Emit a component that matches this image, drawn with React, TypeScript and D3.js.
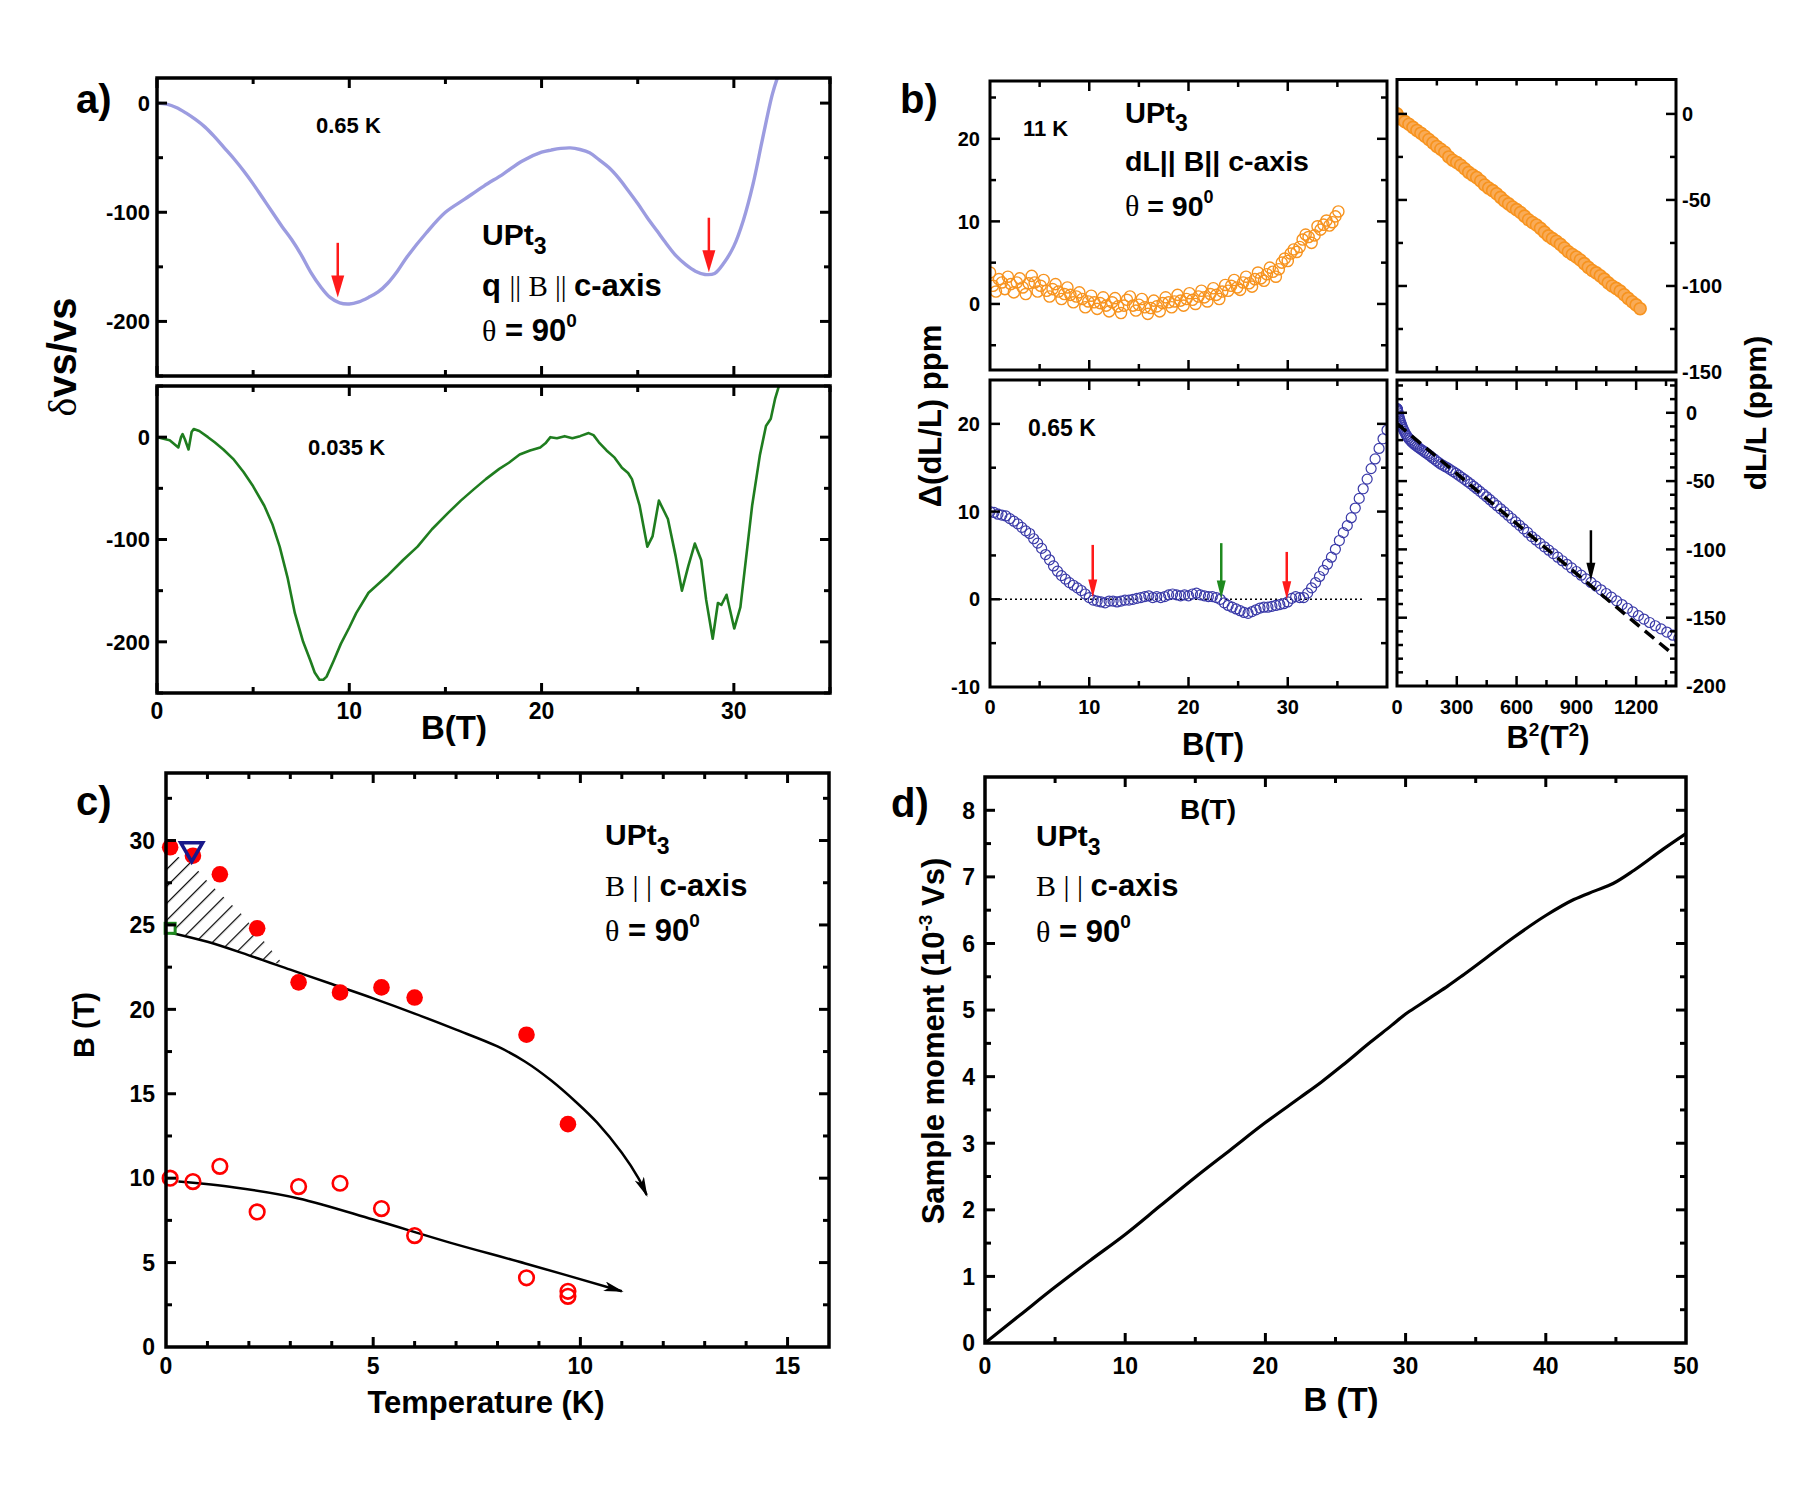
import React, { useEffect, useRef } from 'react';
import * as d3 from 'd3';

const NARROW = "'Liberation Sans Narrow', 'Arial Narrow', 'Liberation Sans', sans-serif";
const SANS = "'Liberation Sans', Arial, Helvetica, sans-serif";
const SERIF = "'Liberation Serif', 'Times New Roman', serif";

// ---------- panel a: relative sound velocity change vs field ----------
const fieldA065 = [0, 0.5, 1, 1.5, 2, 2.5, 3, 3.5, 4, 4.5, 5, 5.5, 6, 6.5, 7, 7.5, 8, 8.5, 9, 9.5, 10, 10.5, 11, 11.5, 12, 12.5, 13, 14, 15, 16, 17, 18, 19, 20, 20.5, 21, 21.5, 22, 22.5, 23, 23.5, 24, 24.5, 25, 25.5, 26, 26.5, 27, 27.5, 28, 28.5, 29, 29.5, 30, 30.5, 31, 31.5, 32, 32.3];
const dvA065 = [0, -1, -4, -9, -15, -22, -31, -41, -51, -62, -74, -87, -100, -113, -125, -139, -155, -168, -178, -183, -184, -182, -178, -173, -165, -154, -141, -119, -100, -88, -76, -65, -53, -45, -43, -41.5, -41, -42.5, -45.5, -52, -59, -68.5, -80, -92, -105, -117, -129, -140, -148, -154, -157, -156, -146, -131, -107, -74, -32, 8, 25];

const fieldA035 = [0, 0.66, 1.11, 1.25, 1.33, 1.45, 1.64, 1.8, 1.91, 2.2, 2.65, 3.0, 3.45, 4.0, 4.5, 5.0, 5.58, 6.0, 6.38, 6.8, 7.17, 7.6, 7.97, 8.2, 8.45, 8.65, 8.82, 9.2, 9.56, 10.0, 10.36, 11.0, 11.95, 12.8, 13.55, 14.3, 15.14, 15.8, 16.47, 17.1, 17.8, 18.3, 18.86, 19.4, 19.93, 20.2, 20.46, 20.8, 21.2, 21.6, 22.0, 22.45, 22.7, 22.98, 23.38, 23.8, 24.18, 24.5, 24.7, 25.1, 25.5, 25.77, 26.1, 26.57, 26.97, 27.3, 27.63, 27.97, 28.3, 28.56, 28.9, 29.17, 29.35, 29.62, 30.02, 30.34, 30.95, 31.35, 31.67, 31.92, 32.15, 32.36];
const dvA035 = [0, -3, -10, 0, 3, -2, -12, 5, 8, 6, 0, -5, -12, -22, -34, -48, -67, -85, -107, -138, -172, -200, -218, -230, -237, -237, -234, -218, -202, -186, -172, -152, -136, -120, -107, -90, -74, -62, -51, -41, -31, -25, -17, -13, -10, -6, 0, -1, 1, -1, 1, 4, 2, -5, -13, -20, -30, -35, -41, -67, -107, -97, -62, -80, -116, -150, -126, -104, -120, -159, -197, -162, -164, -154, -187, -166, -67, -18, 11, 18, 38, 51];

const arrowsA = [
  { b: 9.4, from: -128, to: -178 },
  { b: 28.7, from: -105, to: -155 },
];

const aXTicks = [0, 5, 10, 15, 20, 25, 30, 35];
const aXLabels = [0, 10, 20, 30];
const aYTicks = [-250, -200, -150, -100, -50, 0, 50];
const aYLabels = [-200, -100, 0];

// ---------- panel b: magnetostriction ----------
// 11 K sweep: [B (T), Δ(dL/L) ppm]
const dl11K = [
  [0, 3.8], [0.3, 2.2], [0.6, 1.5], [0.9, 3.0], [1.2, 2.6], [1.5, 1.8], [1.8, 3.3], [2.1, 2.4], [2.4, 1.4], [2.7, 2.6],
  [3, 3.1], [3.3, 2.0], [3.6, 1.2], [3.9, 2.5], [4.2, 3.4], [4.5, 2.6], [4.8, 1.5], [5.1, 2.2], [5.4, 2.9], [5.7, 1.6],
  [6, 0.9], [6.3, 1.8], [6.6, 2.4], [6.9, 1.5], [7.2, 0.6], [7.5, 1.2], [7.8, 2.0], [8.1, 1.1], [8.4, 0.2], [8.7, 0.9],
  [9, 1.4], [9.3, 0.6], [9.6, -0.4], [9.9, 0.3], [10.2, 1.0], [10.5, 0.2], [10.8, -0.6], [11.1, 0.1], [11.4, 0.8], [11.7, -0.2],
  [12, -0.9], [12.3, 0.2], [12.6, 0.7], [12.9, -0.3], [13.2, -1.1], [13.5, -0.2], [13.8, 0.5], [14.1, 0.9], [14.4, -0.2], [14.7, -0.8],
  [15, -0.1], [15.3, 0.6], [15.6, -0.4], [15.9, -1.2], [16.2, -0.5], [16.5, 0.4], [16.8, -0.3], [17.1, -0.9], [17.4, 0.1], [17.7, 0.8],
  [18, 0.2], [18.3, -0.4], [18.6, 0.3], [18.9, 1.1], [19.2, 0.4], [19.5, -0.2], [19.8, 0.6], [20.1, 1.3], [20.4, 0.5], [20.7, 0.0],
  [21, 0.9], [21.3, 1.6], [21.6, 0.8], [21.9, 0.3], [22.2, 1.2], [22.5, 1.9], [22.8, 1.1], [23.1, 0.6], [23.4, 1.5], [23.7, 2.3],
  [24, 1.6], [24.3, 2.2], [24.6, 2.9], [24.9, 2.0], [25.2, 1.7], [25.5, 2.6], [25.8, 3.3], [26.1, 2.5], [26.4, 2.1], [26.7, 3.0],
  [27, 3.8], [27.3, 3.1], [27.6, 2.8], [27.9, 3.6], [28.2, 4.4], [28.5, 3.9], [28.8, 3.3], [29.1, 4.2], [29.4, 5.0], [29.7, 5.5],
  [30, 5.2], [30.3, 6.1], [30.6, 6.6], [30.9, 6.3], [31.2, 6.9], [31.5, 7.8], [31.8, 8.4], [32.1, 8.1], [32.4, 7.4], [32.7, 8.3],
  [33, 9.4], [33.3, 9.0], [33.6, 9.6], [33.9, 10.1], [34.2, 9.5], [34.5, 9.9], [34.8, 10.6], [35.1, 11.2],
];
// 11 K sweep: [B² (T²), dL/L ppm]
const dl11KvsB2 = [
  [0, 0], [20, -3], [40, -4.5], [60, -6], [80, -7.8], [100, -9.6], [120, -11.2], [140, -13.0], [160, -14.9], [180, -16.8],
  [200, -18.9], [220, -20.5], [240, -22.3], [260, -25.0], [280, -26.9], [300, -28.2], [320, -29.8], [340, -31.9], [360, -34.0], [380, -35.6],
  [400, -37.0], [420, -39.0], [440, -41.3], [460, -43.1], [480, -44.6], [500, -46.4], [520, -48.5], [540, -50.6], [560, -52.3], [580, -54.1],
  [600, -55.6], [620, -57.3], [640, -59.4], [660, -61.5], [680, -63.1], [700, -64.6], [720, -66.5], [740, -68.7], [760, -70.9], [780, -72.5],
  [800, -74.0], [820, -75.8], [840, -77.9], [860, -80.1], [880, -81.7], [900, -83.2], [920, -84.9], [940, -87.0], [960, -89.2], [980, -91.0],
  [1000, -92.4], [1020, -94.1], [1040, -96.0], [1060, -98.2], [1080, -100.0], [1100, -101.4], [1120, -103.0], [1140, -105.1], [1160, -107.2], [1180, -109.2],
  [1200, -111.0], [1220, -113.2],
];

// 0.65 K sweep, shared field values
const sweep065 = [
  0, 0.4, 0.8, 1.2, 1.6, 2, 2.4, 2.8, 3.2, 3.6, 4, 4.4, 4.8, 5.2, 5.6, 6, 6.4, 6.8, 7.2, 7.6,
  8, 8.4, 8.8, 9.2, 9.6, 10, 10.4, 10.8, 11.2, 11.6, 12, 12.4, 12.8, 13.2, 13.6, 14, 14.4, 14.8, 15.2, 15.6,
  16, 16.4, 16.8, 17.2, 17.6, 18, 18.4, 18.8, 19.2, 19.6, 20, 20.4, 20.8, 21.2, 21.6, 22, 22.4, 22.8, 23.2, 23.6,
  24, 24.4, 24.8, 25.2, 25.6, 26, 26.4, 26.8, 27.2, 27.6, 28, 28.4, 28.8, 29.2, 29.6, 30, 30.4, 30.8, 31.2, 31.6,
  32, 32.4, 32.8, 33.2, 33.6, 34, 34.4, 34.8, 35.2, 35.6, 36, 36.4, 36.8, 37.2, 37.6, 38, 38.4, 38.8, 39.2, 39.6, 40,
];
const deltaDl065 = [
  10.0, 9.9, 9.7, 9.6, 9.5, 9.2, 8.9, 8.6, 8.2, 7.8, 7.5, 6.9, 6.4, 5.8, 5.1, 4.5, 3.8, 3.2, 2.7, 2.3,
  1.9, 1.6, 1.3, 1.0, 0.6, 0.2, -0.1, -0.2, -0.3, -0.4, -0.2, -0.2, -0.3, -0.2, -0.1, -0.1, 0.0, 0.1, 0.2, 0.3,
  0.4, 0.2, 0.3, 0.2, 0.3, 0.5, 0.6, 0.5, 0.4, 0.5, 0.4, 0.6, 0.7, 0.5, 0.4, 0.3, 0.3, 0.2, 0.0, -0.4,
  -0.7, -0.9, -1.1, -1.3, -1.5, -1.6, -1.4, -1.2, -1.0, -0.9, -0.9, -0.8, -0.7, -0.6, -0.5, -0.3, 0.1, 0.3, 0.2, 0.2,
  0.7, 1.3, 1.9, 2.6, 3.3, 4.0, 4.8, 5.7, 6.7, 7.6, 8.4, 9.3, 10.4, 11.5, 12.6, 13.7, 14.9, 16.0, 17.2, 18.3, 19.3,
];
const dl065 = [
  3, 3, 2.8, 2.5, 2, 1, 0, -1.5, -3, -4.5, -6, -7.5, -9, -10.5, -12, -13.5, -15, -16.3, -17.5, -18.7,
  -19.8, -20.8, -21.8, -22.8, -23.7, -24.6, -25.5, -26.4, -27.3, -28.2, -29.2, -30.2, -31.3, -32.5, -33.7, -35.0, -36.2, -37.5, -38.5, -39.5,
  -40.5, -41.8, -43.0, -44.3, -45.7, -47.2, -48.7, -50.3, -52.0, -53.8, -55.6, -57.5, -59.5, -61.5, -63.6, -65.8, -68.0, -70.3, -72.6, -75.0,
  -77.4, -79.9, -82.4, -85.0, -87.6, -90.6, -93.1, -95.6, -98.1, -100.6, -103.1, -105.7, -108.3, -110.9, -113.6, -116.2, -118.9, -121.6, -124.2, -126.9,
  -129.6, -132.3, -135.0, -137.7, -140.4, -143.1, -145.8, -148.5, -151.0, -153.5, -155.9, -158.2, -160.5, -162.8, -165.0, -167.0, -169.0, -171.0, -173.0, -175.0, -177.0,
];
const fit065 = [[0, -8], [1370, -175]];
const arrowsB = [
  { b: 10.35, from: 6.2, to: 0.2, color: '#ff1a1a' },
  { b: 23.3, from: 6.4, to: 0.1, color: '#1f8a1f' },
  { b: 29.9, from: 5.4, to: 0.0, color: '#ff1a1a' },
];
const arrowB2 = { x: 973, from: -86, to: -123 };

const bXTicks = [5, 10, 15, 20, 25, 30, 35];
const bXLabels = [0, 10, 20, 30];
const bTLYTicks = [-5, 0, 5, 10, 15, 20, 25];
const bTLYLabels = [0, 10, 20];
const bBLYTicks = [-5, 0, 5, 10, 15, 20];
const bBLYLabels = [-10, 0, 10, 20];
const bTRXTicks = [200, 400, 600, 800, 1000, 1200];
const bTRYTicks = [-125, -100, -75, -50, -25, 0];
const bTRYLabels = [-150, -100, -50, 0];
const bBRXTicks = [150, 300, 450, 600, 750, 900, 1050, 1200, 1350];
const bBRXLabels = [0, 300, 600, 900, 1200];
const bBRYTicks = d3.range(-190, 21, 10);
const bBRYLabels = [-200, -150, -100, -50, 0];

// ---------- panel c: phase diagram ----------
const tFilled = [0.1, 0.65, 1.3, 2.2, 3.2, 4.2, 5.2, 6.0, 8.7, 9.7];
const bFilled = [29.6, 29.1, 28.0, 24.8, 21.6, 21.0, 21.3, 20.7, 18.5, 13.2];
const tOpen = [0.1, 0.65, 1.3, 2.2, 3.2, 4.2, 5.2, 6.0, 8.7, 9.7, 9.7];
const bOpen = [10.0, 9.8, 10.7, 8.0, 9.5, 9.7, 8.2, 6.6, 4.1, 3.3, 3.0];
const triPoint = [0.62, 29.4];
const squarePoint = [0.1, 24.8];
const guideUpper = [[0, 24.6], [1, 24.0], [2, 23.2], [3, 22.35], [4, 21.5], [5, 20.65], [6, 19.75], [7, 18.8], [8, 17.8], [8.67, 16.9], [9.29, 15.8], [9.9, 14.5], [10.4, 13.3], [11.0, 11.5], [11.4, 10.0], [11.6, 9.0]];
const guideLower = [[0.3, 9.8], [1.66, 9.45], [3.2, 8.8], [5.0, 7.55], [6.83, 6.2], [8.67, 4.95], [11.0, 3.3]];
const hatchRegion = [[0, 29.4], [0.64, 28.6], [1.03, 27.5], [1.84, 25.6], [2.31, 24.2], [2.85, 22.6], [2.0, 23.2], [1.0, 24.0], [0, 24.6]];
const cXTicks = d3.range(1, 16, 1);
const cXLabels = [0, 5, 10, 15];
const cYTicks = d3.range(2.5, 34, 2.5);
const cYLabels = [0, 5, 10, 15, 20, 25, 30];

// ---------- panel d: magnetisation ----------
const momentB = [0, 2.5, 5, 7.5, 10, 12.5, 15, 17.5, 20, 22.5, 24, 25.5, 27.5, 29, 30, 31, 32, 33, 34, 35.6, 37.7, 40, 42, 43.5, 44.8, 46.3, 48.4, 50];
const momentM = [0, 0.42, 0.84, 1.24, 1.63, 2.06, 2.49, 2.9, 3.31, 3.69, 3.92, 4.17, 4.52, 4.77, 4.94, 5.08, 5.22, 5.36, 5.51, 5.76, 6.09, 6.42, 6.66, 6.79, 6.9, 7.1, 7.42, 7.65];
const dXTicks = d3.range(5, 50, 5);
const dXLabels = [0, 10, 20, 30, 40, 50];
const dYTicks = d3.range(0.5, 8.5, 0.5);
const dYLabels = [0, 1, 2, 3, 4, 5, 6, 7, 8];

type Part = { t: string; f?: string; s?: number; w?: string; dy?: number; dx?: number };

export default function App() {
  const ref = useRef<SVGSVGElement | null>(null);

  useEffect(() => {
    const svg = d3.select(ref.current);
    svg.selectAll('*').remove();
    svg.append('rect').attr('width', 1800).attr('height', 1500).attr('fill', '#fff');
    const defs = svg.append('defs');

    // --- helpers ---
    const rich = (g: any, x: number, y: number, parts: Part[], anchor = 'start', rotate = 0) => {
      const t = g.append('text').attr('x', x).attr('y', y).attr('text-anchor', anchor)
        .attr('fill', '#000').style('white-space', 'pre');
      if (rotate) t.attr('transform', `rotate(${rotate},${x},${y})`);
      for (const p of parts) {
        const s = t.append('tspan').text(p.t)
          .attr('font-family', p.f ?? SANS).attr('font-size', p.s ?? 20).attr('font-weight', p.w ?? 'bold');
        if (p.dy) s.attr('dy', p.dy);
        if (p.dx) s.attr('dx', p.dx);
      }
      return t;
    };

    const frame = (g: any, x: any, y: any, sw: number) => {
      const [x0, x1] = x.range();
      const [yb, yt] = y.range();
      g.append('rect').attr('x', x0).attr('y', yt).attr('width', x1 - x0).attr('height', yb - yt)
        .attr('fill', 'none').attr('stroke', '#000').attr('stroke-width', sw);
    };

    const inside = (s: any, v: number) => {
      const [a, b] = s.domain();
      return v >= Math.min(a, b) && v <= Math.max(a, b);
    };

    const ticks = (g: any, x: any, y: any, xt: number[], yt: number[], xMaj: (v: number) => boolean, yMaj: (v: number) => boolean,
      o: { maj?: number; min?: number; sw?: number; sides?: string } = {}) => {
      const maj = o.maj ?? 10, min = o.min ?? 6, sw = o.sw ?? 2.5, sides = o.sides ?? 'lrtb';
      const [x0, x1] = x.range();
      const [yb, ytop] = y.range();
      const seg = (a: number, b: number, c: number, d: number) =>
        g.append('line').attr('x1', a).attr('y1', b).attr('x2', c).attr('y2', d).attr('stroke', '#000').attr('stroke-width', sw);
      for (const v of xt.filter(v => inside(x, v))) {
        const p = x(v), len = xMaj(v) ? maj : min;
        if (sides.includes('b')) seg(p, yb, p, yb - len);
        if (sides.includes('t')) seg(p, ytop, p, ytop + len);
      }
      for (const v of yt.filter(v => inside(y, v))) {
        const p = y(v), len = yMaj(v) ? maj : min;
        if (sides.includes('l')) seg(x0, p, x0 + len, p);
        if (sides.includes('r')) seg(x1, p, x1 - len, p);
      }
    };

    const xLabels = (g: any, x: any, vals: number[], yPos: number, font: string, size: number) => {
      vals.forEach(v => g.append('text').attr('x', x(v)).attr('y', yPos).attr('text-anchor', 'middle')
        .attr('font-family', font).attr('font-size', size).attr('font-weight', 'bold').text(String(v)));
    };
    const yLabels = (g: any, y: any, vals: number[], xPos: number, anchor: string, font: string, size: number) => {
      vals.forEach(v => g.append('text').attr('x', xPos).attr('y', y(v)).attr('dy', '0.36em').attr('text-anchor', anchor)
        .attr('font-family', font).attr('font-size', size).attr('font-weight', 'bold').text(String(v)));
    };

    const clip = (id: string, x: any, y: any) => {
      const [x0, x1] = x.range();
      const [yb, yt] = y.range();
      defs.append('clipPath').attr('id', id).append('rect')
        .attr('x', x0).attr('y', yt).attr('width', x1 - x0).attr('height', yb - yt);
      return `url(#${id})`;
    };

    const downArrow = (g: any, x: number, y0: number, y1: number, color: string, sw: number, hl: number, hw: number) => {
      g.append('line').attr('x1', x).attr('x2', x).attr('y1', y0).attr('y2', y1 - hl + 2)
        .attr('stroke', color).attr('stroke-width', sw);
      g.append('path').attr('d', `M${x - hw},${y1 - hl}L${x + hw},${y1 - hl}L${x},${y1}Z`).attr('fill', color);
    };

    // ================= panel a =================
    {
      const g = svg.append('g');
      const x = d3.scaleLinear().domain([0, 35]).range([157, 830]);
      const yTop = d3.scaleLinear().domain([-250, 23]).range([376, 78]);
      const yBot = d3.scaleLinear().domain([-250, 50]).range([693, 386]);

      const cTop = clip('clipATop', x, yTop);
      const cBot = clip('clipABot', x, yBot);

      const lineTop = d3.line<number>().x((_, i) => x(fieldA065[i])).y(d => yTop(d)).curve(d3.curveCatmullRom);
      g.append('path').attr('d', lineTop(dvA065)).attr('fill', 'none').attr('stroke', '#9c9ce0')
        .attr('stroke-width', 3.4).attr('clip-path', cTop);

      const lineBot = d3.line<number>().x((_, i) => x(fieldA035[i])).y(d => yBot(d)).curve(d3.curveLinear);
      g.append('path').attr('d', lineBot(dvA035)).attr('fill', 'none').attr('stroke', '#1f7d1f')
        .attr('stroke-width', 2.6).attr('stroke-linejoin', 'round').attr('clip-path', cBot);

      arrowsA.forEach(a => downArrow(g, x(a.b), yTop(a.from), yTop(a.to), '#ff1a1a', 2.5, 22, 6.5));

      [yTop, yBot].forEach(y => {
        frame(g, x, y, 3.5);
        ticks(g, x, y, aXTicks, aYTicks, v => v % 10 === 0, v => v % 100 === 0, { maj: 10, min: 6, sw: 3 });
        yLabels(g, y, aYLabels, 150, 'end', NARROW, 22);
      });
      xLabels(g, x, aXLabels, 719, NARROW, 23);

      rich(g, 76, 113, [{ t: 'a)', f: NARROW, s: 40 }]);
      rich(g, 316, 133, [{ t: '0.65 K', f: NARROW, s: 22 }]);
      rich(g, 308, 455, [{ t: '0.035 K', f: NARROW, s: 22 }]);
      rich(g, 482, 245, [{ t: 'UPt', f: NARROW, s: 30 }, { t: '3', f: NARROW, s: 23, dy: 9 }]);
      rich(g, 482, 296, [
        { t: 'q ', f: NARROW, s: 31 },
        { t: '|| B || ', f: SERIF, s: 29, w: 'normal' },
        { t: 'c-axis', f: NARROW, s: 31 },
      ]);
      rich(g, 482, 341, [
        { t: 'θ', f: SERIF, s: 30, w: 'normal' },
        { t: ' = 90', f: NARROW, s: 31 },
        { t: '0', f: NARROW, s: 19, dy: -14 },
      ]);
      rich(g, 454, 739, [{ t: 'B(T)', f: NARROW, s: 33 }], 'middle');
      rich(g, 76, 357, [
        { t: 'δ', f: SERIF, s: 40, w: 'normal' },
        { t: 'vs/vs', f: SANS, s: 40 },
      ], 'middle', -90);
    }

    // ================= panel b =================
    {
      const g = svg.append('g');
      const xL = d3.scaleLinear().domain([0, 40]).range([990, 1387]);
      const yTL = d3.scaleLinear().domain([-8, 27]).range([370, 81]);
      const yBL = d3.scaleLinear().domain([-10, 25]).range([687, 380]);
      const xR = d3.scaleLinear().domain([0, 1400]).range([1397, 1676]);
      const yTR = d3.scaleLinear().domain([-150, 20]).range([372, 79.5]);
      const yBR = d3.scaleLinear().domain([-200, 24]).range([686, 380]);

      const orange = '#f7931e';
      const blue = '#3a3aa8';

      const cTL = clip('clipBTL', xL, yTL);
      g.append('g').attr('clip-path', cTL).selectAll('circle').data(dl11K).join('circle')
        .attr('cx', d => xL(d[0])).attr('cy', d => yTL(d[1])).attr('r', 5.6)
        .attr('fill', 'none').attr('stroke', orange).attr('stroke-width', 1.4);

      const cTR = clip('clipBTR', xR, yTR);
      g.append('g').attr('clip-path', cTR).selectAll('circle').data(dl11KvsB2).join('circle')
        .attr('cx', d => xR(d[0])).attr('cy', d => yTR(d[1])).attr('r', 6)
        .attr('fill', '#f9ab57').attr('stroke', orange).attr('stroke-width', 1.6);

      const cBL = clip('clipBBL', xL, yBL);
      g.append('line').attr('x1', xL(0)).attr('x2', xL(37.7)).attr('y1', yBL(0)).attr('y2', yBL(0))
        .attr('stroke', '#000').attr('stroke-width', 1.5).attr('stroke-dasharray', '2,3');
      g.append('g').attr('clip-path', cBL).selectAll('circle').data(sweep065).join('circle')
        .attr('cx', d => xL(d)).attr('cy', (_, i) => yBL(deltaDl065[i])).attr('r', 5)
        .attr('fill', 'none').attr('stroke', blue).attr('stroke-width', 1.2);
      arrowsB.forEach(a => downArrow(g, xL(a.b), yBL(a.from), yBL(a.to), a.color, 2.5, 18, 4.5));

      const cBR = clip('clipBBR', xR, yBR);
      const gBR = g.append('g').attr('clip-path', cBR);
      gBR.selectAll('circle').data(sweep065).join('circle')
        .attr('cx', d => xR(d * d)).attr('cy', (_, i) => yBR(dl065[i])).attr('r', 5)
        .attr('fill', 'none').attr('stroke', blue).attr('stroke-width', 1.2);
      gBR.append('path').attr('d', d3.line()(fit065.map(p => [xR(p[0]), yBR(p[1])]) as any))
        .attr('stroke', '#000').attr('stroke-width', 3.5).attr('stroke-dasharray', '12,7').attr('fill', 'none');
      downArrow(g, xR(arrowB2.x), yBR(arrowB2.from), yBR(arrowB2.to), '#000', 2.5, 18, 4.5);

      frame(g, xL, yTL, 3);
      ticks(g, xL, yTL, bXTicks, bTLYTicks, v => v % 10 === 0, v => v % 10 === 0, { maj: 10, min: 6, sw: 2.5 });
      frame(g, xL, yBL, 3);
      ticks(g, xL, yBL, bXTicks, bBLYTicks, v => v % 10 === 0, v => v % 10 === 0, { maj: 10, min: 6, sw: 2.5 });
      frame(g, xR, yTR, 3);
      ticks(g, xR, yTR, bTRXTicks, bTRYTicks, () => false, v => v % 50 === 0, { maj: 10, min: 6, sw: 2.5 });
      frame(g, xR, yBR, 3);
      ticks(g, xR, yBR, bBRXTicks, bBRYTicks, v => v % 300 === 0, v => v % 50 === 0, { maj: 10, min: 6, sw: 2.5 });

      yLabels(g, yTL, bTLYLabels, 980, 'end', SANS, 20);
      yLabels(g, yBL, bBLYLabels, 980, 'end', SANS, 20);
      yLabels(g, yTR, bTRYLabels, 1682, 'start', SANS, 20);
      yLabels(g, yBR, bBRYLabels, 1686, 'start', SANS, 20);
      xLabels(g, xL, bXLabels, 714, SANS, 20);
      xLabels(g, xR, bBRXLabels, 714, SANS, 20);

      rich(g, 900, 113, [{ t: 'b)', f: SANS, s: 40 }]);
      rich(g, 1023, 136, [{ t: '11 K', f: SANS, s: 22 }]);
      rich(g, 1125, 123, [{ t: 'UPt', f: SANS, s: 29 }, { t: '3', f: SANS, s: 23, dy: 8 }]);
      rich(g, 1125, 171, [{ t: 'dL|| B|| c-axis', f: SANS, s: 28.5 }]);
      rich(g, 1125, 216, [
        { t: 'θ', f: SERIF, s: 30, w: 'normal' },
        { t: ' = 90', f: SANS, s: 28.5 },
        { t: '0', f: SANS, s: 18, dy: -13 },
      ]);
      rich(g, 1028, 436, [{ t: '0.65 K', f: SANS, s: 23 }]);
      rich(g, 1213, 755, [{ t: 'B(T)', f: SANS, s: 31 }], 'middle');
      rich(g, 1548, 748, [
        { t: 'B', f: SANS, s: 31 },
        { t: '2', f: SANS, s: 19, dy: -12 },
        { t: '(T', f: SANS, s: 31, dy: 12 },
        { t: '2', f: SANS, s: 19, dy: -12 },
        { t: ')', f: SANS, s: 31, dy: 12 },
      ], 'middle');
      rich(g, 941, 416, [{ t: 'Δ(dL/L) ppm', f: SANS, s: 31 }], 'middle', -90);
      rich(g, 1766, 413, [{ t: 'dL/L (ppm)', f: SANS, s: 30 }], 'middle', -90);
    }

    // ================= panel c =================
    {
      const g = svg.append('g');
      const x = d3.scaleLinear().domain([0, 16]).range([166, 829]);
      const y = d3.scaleLinear().domain([0, 34]).range([1347, 773]);
      const cc = clip('clipC', x, y);

      const pat = defs.append('pattern').attr('id', 'hatchC').attr('patternUnits', 'userSpaceOnUse')
        .attr('width', 12).attr('height', 12).attr('patternTransform', 'rotate(45)');
      pat.append('line').attr('x1', 0).attr('y1', 0).attr('x2', 0).attr('y2', 12).attr('stroke', '#000').attr('stroke-width', 2.4);
      g.append('path').attr('d', d3.line()(hatchRegion.map(p => [x(p[0]), y(p[1])]) as any) + 'Z')
        .attr('fill', 'url(#hatchC)').attr('stroke', 'none').attr('clip-path', cc);

      const mk = defs.append('marker').attr('id', 'arrowC').attr('markerUnits', 'userSpaceOnUse')
        .attr('viewBox', '0 0 20 10').attr('refX', 18).attr('refY', 5)
        .attr('markerWidth', 20).attr('markerHeight', 10).attr('orient', 'auto');
      mk.append('path').attr('d', 'M0,0L20,5L0,10L5,5Z').attr('fill', '#000');

      const guide = d3.line().x(d => x(d[0])).y(d => y(d[1])).curve(d3.curveCatmullRom);
      g.append('path').attr('d', guide(guideUpper as any)).attr('fill', 'none').attr('stroke', '#000')
        .attr('stroke-width', 2.5).attr('marker-end', 'url(#arrowC)');
      g.append('path').attr('d', guide(guideLower as any)).attr('fill', 'none').attr('stroke', '#000')
        .attr('stroke-width', 2.5).attr('marker-end', 'url(#arrowC)');

      tFilled.forEach((t, i) => g.append('circle').attr('cx', x(t)).attr('cy', y(bFilled[i])).attr('r', 8.3).attr('fill', '#ff0000'));
      tOpen.forEach((t, i) => g.append('circle').attr('cx', x(t)).attr('cy', y(bOpen[i])).attr('r', 7.3)
        .attr('fill', 'none').attr('stroke', '#ff0000').attr('stroke-width', 2.6));

      const tx = x(triPoint[0]), ty = y(triPoint[1]);
      g.append('path').attr('d', `M${tx - 11},${ty - 8}L${tx + 11},${ty - 8}L${tx},${ty + 11}Z`)
        .attr('fill', 'none').attr('stroke', '#18188a').attr('stroke-width', 3.5).attr('stroke-linejoin', 'miter');
      const sx = x(squarePoint[0]), sy = y(squarePoint[1]);
      g.append('rect').attr('x', sx - 5).attr('y', sy - 5).attr('width', 10).attr('height', 10)
        .attr('fill', '#fff').attr('stroke', '#1f8a1f').attr('stroke-width', 3);

      frame(g, x, y, 3.5);
      ticks(g, x, y, cXTicks, cYTicks, v => v % 5 === 0, v => v % 5 === 0, { maj: 10, min: 6, sw: 3 });
      yLabels(g, y, cYLabels, 155, 'end', NARROW, 23);
      xLabels(g, x, cXLabels, 1374, NARROW, 23);

      rich(g, 76, 815, [{ t: 'c)', f: NARROW, s: 40 }]);
      rich(g, 605, 845, [{ t: 'UPt', f: NARROW, s: 30 }, { t: '3', f: NARROW, s: 23, dy: 9 }]);
      rich(g, 605, 896, [
        { t: 'B | | ', f: SERIF, s: 30, w: 'normal' },
        { t: 'c-axis', f: NARROW, s: 31 },
      ]);
      rich(g, 605, 941, [
        { t: 'θ', f: SERIF, s: 30, w: 'normal' },
        { t: ' = 90', f: NARROW, s: 31 },
        { t: '0', f: NARROW, s: 19, dy: -14 },
      ]);
      rich(g, 486, 1413, [{ t: 'Temperature (K)', f: NARROW, s: 31 }], 'middle');
      rich(g, 94, 1025, [{ t: 'B (T)', f: SANS, s: 29 }], 'middle', -90);
    }

    // ================= panel d =================
    {
      const g = svg.append('g');
      const x = d3.scaleLinear().domain([0, 50]).range([985, 1686]);
      const y = d3.scaleLinear().domain([0, 8.5]).range([1343, 777]);
      const cd = clip('clipD', x, y);

      const ln = d3.line<number>().x((_, i) => x(momentB[i])).y(d => y(d)).curve(d3.curveMonotoneX);
      g.append('path').attr('d', ln(momentM)).attr('fill', 'none').attr('stroke', '#000')
        .attr('stroke-width', 3.2).attr('clip-path', cd);

      frame(g, x, y, 3.5);
      ticks(g, x, y, dXTicks, dYTicks, v => v % 10 === 0, v => Number.isInteger(v), { maj: 10, min: 6, sw: 3 });
      yLabels(g, y, dYLabels, 975, 'end', NARROW, 23);
      xLabels(g, x, dXLabels, 1374, NARROW, 23);

      rich(g, 891, 817, [{ t: 'd)', f: NARROW, s: 40 }]);
      rich(g, 1180, 819, [{ t: 'B(T)', f: NARROW, s: 28 }]);
      rich(g, 1036, 846, [{ t: 'UPt', f: NARROW, s: 30 }, { t: '3', f: NARROW, s: 23, dy: 9 }]);
      rich(g, 1036, 896, [
        { t: 'B | | ', f: SERIF, s: 30, w: 'normal' },
        { t: 'c-axis', f: NARROW, s: 31 },
      ]);
      rich(g, 1036, 942, [
        { t: 'θ', f: SERIF, s: 30, w: 'normal' },
        { t: ' = 90', f: NARROW, s: 31 },
        { t: '0', f: NARROW, s: 19, dy: -14 },
      ]);
      rich(g, 1341, 1411, [{ t: 'B (T)', f: SANS, s: 33 }], 'middle');
      rich(g, 944, 1041, [
        { t: 'Sample moment (10', f: SANS, s: 31 },
        { t: '-3', f: SANS, s: 19, dy: -12 },
        { t: ' Vs)', f: SANS, s: 31, dy: 12 },
      ], 'middle', -90);
    }
  }, []);

  return (
    <svg ref={ref} width={1800} height={1500} viewBox="0 0 1800 1500"
      style={{ position: 'absolute', left: 0, top: 0, display: 'block' }} />
  );
}
